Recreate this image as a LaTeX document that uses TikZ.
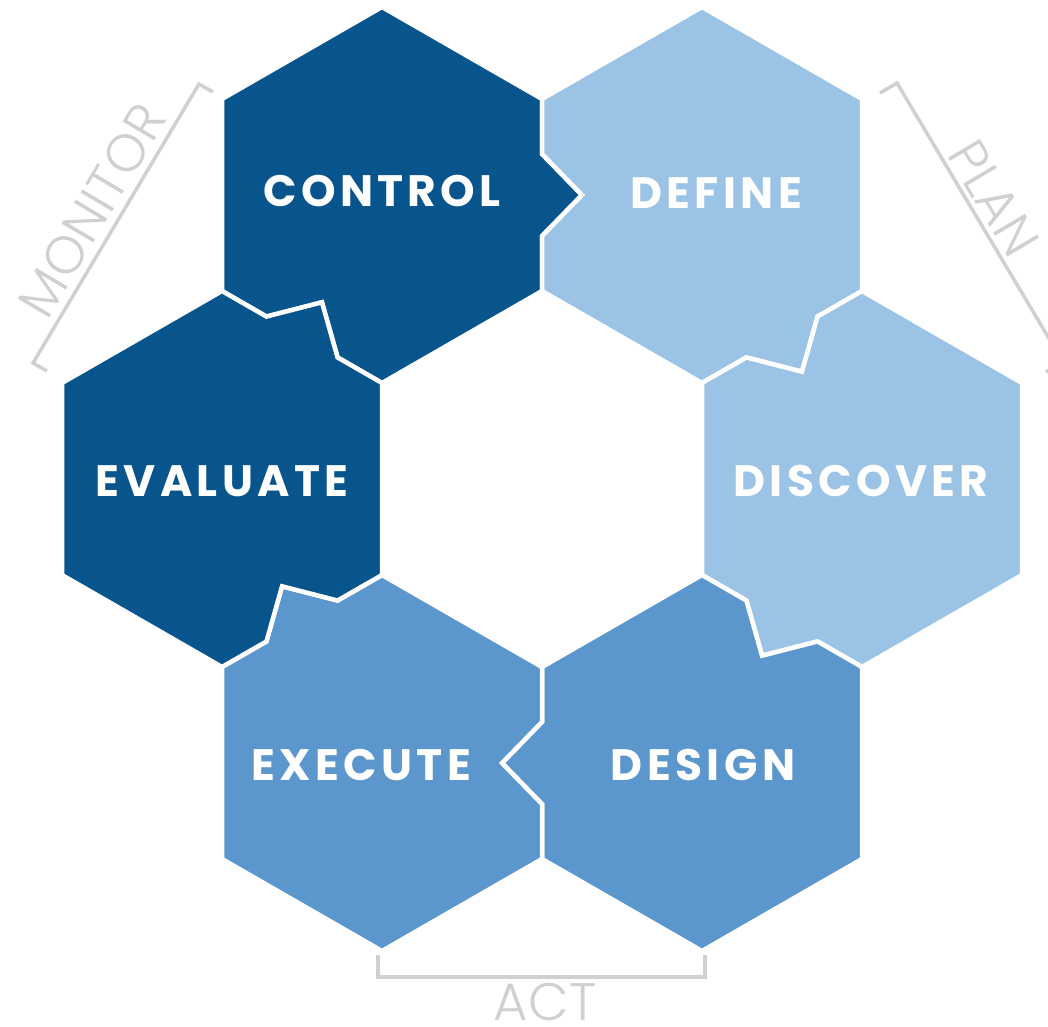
\documentclass[tikz,border=0pt]{standalone}
\usepackage{fontspec}
\setmainfont{Poppins}
\newfontfamily\lightfont{Poppins Light}[LetterSpace=1]
\newfontfamily\boldlbl{Poppins}[UprightFont=* Bold, LetterSpace=10]
\usetikzlibrary{calc}
\definecolor{dkblue}{HTML}{08548C}
\definecolor{ltblue}{HTML}{9BC3E6}
\definecolor{mdblue}{HTML}{5B96CC}
\definecolor{brgray}{HTML}{D0D0D0}
\newcommand\hexpts[3]{%
  \coordinate (#1-0) at ({#2},{#3-188});
  \coordinate (#1-1) at ({#2+160},{#3-96});
  \coordinate (#1-2) at ({#2+160},{#3+96});
  \coordinate (#1-3) at ({#2},{#3+188});
  \coordinate (#1-4) at ({#2-160},{#3+96});
  \coordinate (#1-5) at ({#2-160},{#3-96});
}
\newcommand\tabpts[3]{%
  \coordinate (#1-m) at ($(#2)!0.5!(#3)$);
  \coordinate (#1-a) at ($(#1-m)!0.41cm!(#2)$);
  \coordinate (#1-b) at ($(#1-m)!0.41cm!(#3)$);
  \coordinate (#1-p) at ($(#1-m)!0.40cm!90:(#3)$);
}
\tikzset{
  piece/.style={draw=white, line width=0.045cm, line join=miter},
  lbl/.style={text=white, inner sep=0pt, font={\boldlbl\fontsize{12.5}{14}\selectfont}},
  glbl/.style={text=brgray, inner sep=0pt, font={\lightfont\fontsize{15}{17}\selectfont}},
  brk/.style={draw=brgray, line width=0.035cm}
}
\begin{document}
\begin{tikzpicture}[x=0.01cm, y=-0.01cm]
\useasboundingbox (0,0) rectangle (1048,1027);
\clip (0,0) rectangle (1048,1027);
\hexpts{C}{382}{195}
\hexpts{D}{702}{195}
\hexpts{S}{862}{479}
\hexpts{G}{702}{763}
\hexpts{X}{382}{763}
\hexpts{E}{222}{479}
\tabpts{T1}{C-1}{C-2}
\tabpts{T2}{D-2}{D-3}
\tabpts{T3}{S-3}{S-4}
\tabpts{T4}{G-4}{G-5}
\tabpts{T5}{X-5}{X-0}
\tabpts{T6}{E-0}{E-1}
% pieces
\filldraw[piece, fill=dkblue] (C-0) -- (C-1) -- (T1-a) -- (T1-p) -- (T1-b) -- (C-2) -- (C-3) -- (T6-b) -- (T6-p) -- (T6-a) -- (C-4) -- (C-5) -- cycle;
\filldraw[piece, fill=ltblue] (D-0) -- (D-1) -- (D-2) -- (T2-a) -- (T2-p) -- (T2-b) -- (D-3) -- (D-4) -- (T1-b) -- (T1-p) -- (T1-a) -- (D-5) -- cycle;
\filldraw[piece, fill=ltblue] (S-0) -- (S-1) -- (S-2) -- (S-3) -- (T3-a) -- (T3-p) -- (T3-b) -- (S-4) -- (S-5) -- (T2-b) -- (T2-p) -- (T2-a) -- cycle;
\filldraw[piece, fill=mdblue] (G-0) -- (T3-b) -- (T3-p) -- (T3-a) -- (G-1) -- (G-2) -- (G-3) -- (G-4) -- (T4-a) -- (T4-p) -- (T4-b) -- (G-5) -- cycle;
\filldraw[piece, fill=mdblue] (X-0) -- (X-1) -- (T4-b) -- (T4-p) -- (T4-a) -- (X-2) -- (X-3) -- (X-4) -- (X-5) -- (T5-a) -- (T5-p) -- (T5-b) -- cycle;
\filldraw[piece, fill=dkblue] (E-0) -- (T6-a) -- (T6-p) -- (T6-b) -- (E-1) -- (E-2) -- (T5-b) -- (T5-p) -- (T5-a) -- (E-3) -- (E-4) -- (E-5) -- cycle;
% labels
\node[lbl] (control) at (382,191) {CONTROL};
\node[lbl] (define) at (716,193) {DEFINE};
\node[lbl] (discover) at (861,481) {DISCOVER};
\node[lbl] (evaluate) at (222,481) {EVALUATE};
\node[lbl] (execute) at (361,765) {EXECUTE};
\node[lbl] (design) at (703,765) {DESIGN};
% brackets
\coordinate (mA) at (47,371);
\coordinate (mB) at (33,363);
\coordinate (mC) at (199,84);
\coordinate (mD) at (213,92);
\draw[brk] (mA) -- (mB) -- (mC) -- (mD);
\node[glbl, rotate=59.25] (monitor) at (92,210) {MONITOR};
\coordinate (pA) at (880,93);
\coordinate (pB) at (897,83);
\coordinate (pC) at (1063,362);
\coordinate (pD) at (1046,372);
\draw[brk] (pA) -- (pB) -- (pC) -- (pD);
\node[glbl, rotate=-59.25] (plan) at (994,198) {PLAN};
\coordinate (aA) at (378,955);
\coordinate (aB) at (378,977);
\coordinate (aC) at (705,977);
\coordinate (aD) at (705,955);
\draw[brk] (aA) -- (aB) -- (aC) -- (aD);
\node[glbl] (act) at (545,1002) {ACT};
\end{tikzpicture}
\end{document}
